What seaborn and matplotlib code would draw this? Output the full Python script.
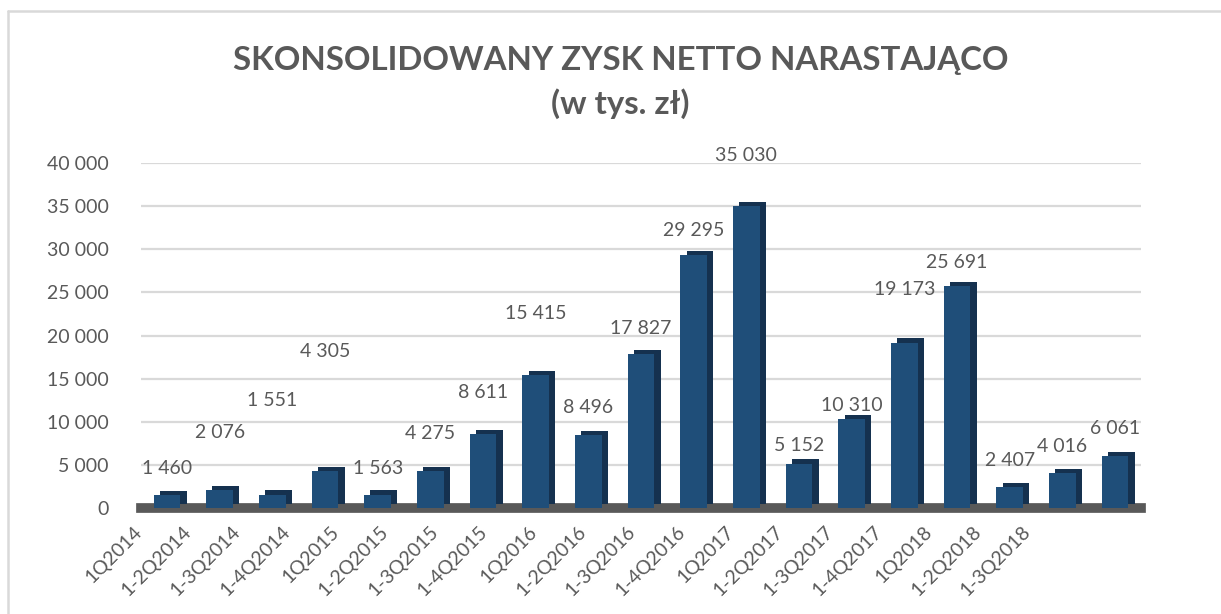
import matplotlib
matplotlib.use("Agg")
import matplotlib.pyplot as plt
import matplotlib.patheffects as pe
from matplotlib.lines import Line2D
from matplotlib.transforms import ScaledTranslation
import pandas as pd
import seaborn as sns

# dane: skonsolidowany zysk netto narastająco (tys. zł)
okresy = ['1Q2014', '1-2Q2014', '1-3Q2014', '1-4Q2014', '1Q2015', '1-2Q2015',
          '1-3Q2015', '1-4Q2015', '1Q2016', '1-2Q2016', '1-3Q2016', '1-4Q2016',
          '1Q2017', '1-2Q2017', '1-3Q2017', '1-4Q2017', '1Q2018', '1-2Q2018',
          '1-3Q2018']
zysk = [1460, 2076, 1551, 4305, 1563, 4275, 8611, 15415, 8496, 17827, 29295,
        35030, 5152, 10310, 19173, 25691, 2407, 4016, 6061]

# wysokosc etykiet jak w oryginale (Excel 3D je porozrzucal)
etykieta_y = [4600, 8800, 12500, 18200, 4600, 8600, 13400, 22600, 11600, 20800,
              32200, 40900, 7200, 11900, 25300, 28500, 5500, 7100, 9200]

df = pd.DataFrame({'okres': okresy, 'zysk': zysk})

sns.set_theme(style='white')
plt.rcParams['font.family'] = ['Lato', 'DejaVu Sans']

szary = '#595959'
niebieski = '#1f4e79'

fig = plt.figure(figsize=(12.21, 6.14), dpi=100)
ax = fig.add_axes([0.1152, 0.1726, 0.8196, 0.5619])

sns.barplot(data=df, x='okres', y='zysk', color=niebieski, width=0.51,
            saturation=1, linewidth=0, ax=ax, zorder=3)

# troche "3D" - ciemniejszy bok i gora
for p in ax.patches:
    p.set_path_effects([pe.SimplePatchShadow(offset=(4.5, 3), shadow_rgbFace='#15314f', alpha=1),
                        pe.Normal()])

ax.set_ylim(0, 40000)
ax.set_yticks(range(0, 40001, 5000))
ax.set_yticklabels([f'{v:,}'.replace(',', ' ') for v in range(0, 40001, 5000)])
ax.yaxis.grid(True, color='#d9d9d9', linewidth=1.6)
ax.set_axisbelow(True)
ax.set_xlabel('')
ax.set_ylabel('')

for s in ['top', 'right', 'left']:
    ax.spines[s].set_visible(False)
# podloga
ax.spines['bottom'].set_color(szary)
ax.spines['bottom'].set_linewidth(7)
ax.spines['bottom'].set_zorder(2)

ax.tick_params(axis='y', length=0, pad=23, labelsize=14, labelcolor=szary)
ax.tick_params(axis='x', length=0, pad=15, labelsize=14, labelcolor=szary)
# perspektywa: etykiety osi x sa troche sciesnione w lewo
for i, lbl in enumerate(ax.get_xticklabels()):
    lbl.set_rotation(45)
    lbl.set_ha('right')
    lbl.set_va('center')
    lbl.set_rotation_mode('anchor')
    lbl.set_transform(lbl.get_transform() + ScaledTranslation(-0.28 - 0.033 * i, 0, fig.dpi_scale_trans))

# etykiety danych
for i, (v, y) in enumerate(zip(zysk, etykieta_y)):
    ax.text(i, y, f'{v:,}'.replace(',', ' '), ha='center', va='center',
            fontsize=14, color=szary, clip_on=False, zorder=5)

fig.text(0.508, 0.902, 'SKONSOLIDOWANY ZYSK NETTO NARASTAJĄCO', ha='center', va='center',
         fontsize=23.8, fontweight='bold', color=szary)
fig.text(0.508, 0.832, '(w tys. zł)', ha='center', va='center',
         fontsize=23.8, fontweight='bold', color=szary)

# ramka wykresu
fig.add_artist(Line2D([8 / 1221, 1], [1 - 11 / 614, 1 - 11 / 614], color='#d9d9d9', linewidth=1.8))
fig.add_artist(Line2D([8 / 1221, 8 / 1221], [0, 1 - 11 / 614], color='#d9d9d9', linewidth=1.8))

fig.savefig('out.png', dpi=100)
